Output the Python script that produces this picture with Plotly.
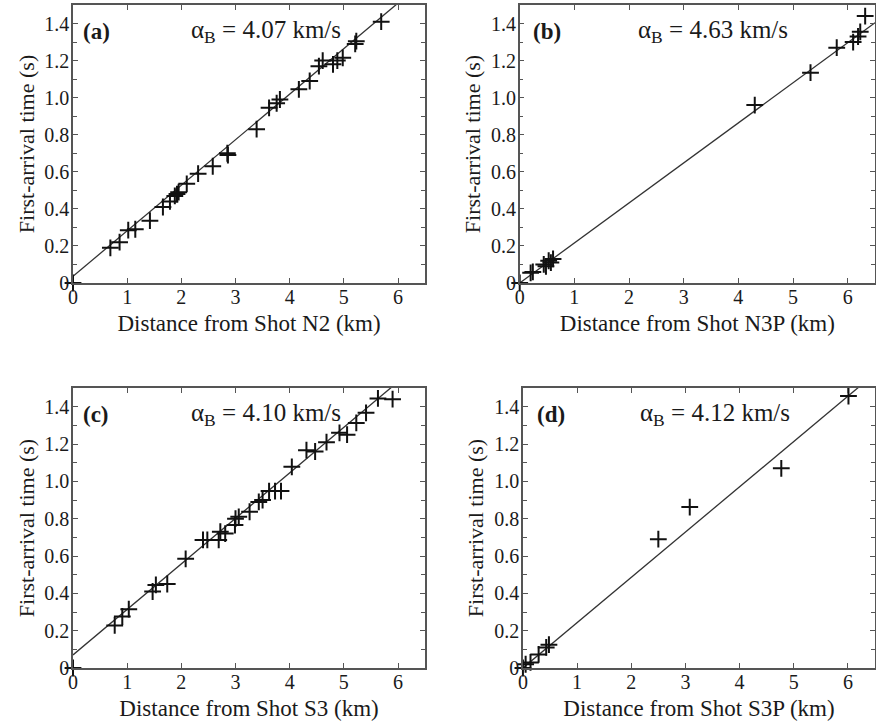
import plotly.graph_objects as go

# ---- data ----
panel_labels = ["(a)", "(b)", "(c)", "(d)"]
shot_names = ["N2", "N3P", "S3", "S3P"]
velocities = [4.07, 4.63, 4.10, 4.12]          # alpha_B, km/s
intercepts = [0.036, 0.0, 0.07, 0.0]          # fitted line intercept, s

a_x = [0, 0.69, 0.86, 1.02, 1.15, 1.42, 1.66, 1.79, 1.88, 1.92, 1.95, 2.10, 2.31, 2.58, 2.85, 2.86,
       3.39, 3.62, 3.76, 3.82, 4.17, 4.37, 4.54, 4.61, 4.80, 4.88, 4.98, 5.21, 5.23, 5.69]
a_y = [0, 0.19, 0.22, 0.285, 0.29, 0.336, 0.41, 0.44, 0.47, 0.48, 0.49, 0.535, 0.59, 0.63, 0.70, 0.69,
       0.83, 0.945, 0.97, 0.99, 1.045, 1.09, 1.17, 1.20, 1.18, 1.20, 1.215, 1.29, 1.305, 1.41]

b_x = [0, 0.20, 0.24, 0.44, 0.48, 0.53, 0.57, 0.61, 4.30, 5.32, 5.80, 6.10, 6.19, 6.23, 6.32]
b_y = [0, 0.055, 0.06, 0.10, 0.09, 0.12, 0.11, 0.13, 0.96, 1.135, 1.27, 1.30, 1.33, 1.355, 1.44]

c_x = [0, 0.77, 0.91, 1.03, 1.47, 1.53, 1.74, 2.08, 2.40, 2.48, 2.69, 2.72, 2.81, 2.99, 3.00, 3.06,
       3.26, 3.43, 3.50, 3.62, 3.73, 3.84, 4.04, 4.31, 4.47, 4.68, 4.92, 5.06, 5.23, 5.41, 5.63, 5.90]
c_y = [0, 0.228, 0.276, 0.315, 0.41, 0.445, 0.45, 0.585, 0.686, 0.686, 0.686, 0.73, 0.72, 0.766, 0.80, 0.81,
       0.837, 0.89, 0.90, 0.948, 0.948, 0.948, 1.078, 1.167, 1.16, 1.21, 1.26, 1.25, 1.313, 1.367, 1.444, 1.44]

d_x = [0, 0.05, 0.14, 0.29, 0.43, 0.48, 2.50, 3.08, 4.77, 6.01]
d_y = [0, 0.02, 0.03, 0.073, 0.11, 0.125, 0.69, 0.862, 1.07, 1.457]

x_ticks = [0, 1, 2, 3, 4, 5, 6]
y_ticks = [0, 0.2, 0.4, 0.6, 0.8, 1.0, 1.2, 1.4]
y_tick_text = ["0", "0.2", "0.4", "0.6", "0.8", "1.0", "1.2", "1.4"]
x_range = [0, 6.5]
y_range = [0, 1.5]

# ---- figure ----
FONT = "'Liberation Serif', 'DejaVu Serif', serif"
TXT = "#1a1a1a"
AX = "#555555"

xs = [a_x, b_x, c_x, d_x]
ys = [a_y, b_y, c_y, d_y]

x_domains = [[0, 0.439], [0.557, 1.0], [0, 0.439], [0.561, 1.0]]
y_domains = [[0.5807, 1.0], [0.5807, 1.0], [0, 0.4223], [0, 0.4223]]

fig = go.Figure()

for i in range(4):
    sfx = "" if i == 0 else str(i + 1)
    xa, ya = "x" + sfx, "y" + sfx
    v, b0 = velocities[i], intercepts[i]
    lx = [x_range[0], x_range[1]]
    ly = [b0 + xx / v for xx in lx]
    fig.add_trace(go.Scatter(x=lx, y=ly, mode="lines", xaxis=xa, yaxis=ya,
                             line=dict(color="#333333", width=1.3), showlegend=False,
                             hoverinfo="skip"))
    fig.add_trace(go.Scatter(x=xs[i], y=ys[i], mode="markers", xaxis=xa, yaxis=ya,
                             marker=dict(symbol="cross-thin", size=12,
                                         line=dict(color="#111111", width=2)),
                             cliponaxis=False, showlegend=False))

    common = dict(showline=True, linecolor=AX, linewidth=1.5, mirror="ticks",
                  ticks="inside", ticklen=5, tickwidth=1, tickcolor=AX,
                  showgrid=False, zeroline=False, automargin=False,
                  tickfont=dict(family=FONT, size=20, color=TXT))
    fig.layout["xaxis" + sfx] = dict(
        domain=x_domains[i], range=x_range, anchor=ya,
        tickmode="array", tickvals=x_ticks, ticklabelstandoff=-5,
        title=dict(text=f"Distance from Shot {shot_names[i]} (km)",
                   font=dict(family=FONT, size=23, color=TXT), standoff=8),
        **common)
    fig.layout["yaxis" + sfx] = dict(
        domain=y_domains[i], range=y_range, anchor=xa,
        tickmode="array", tickvals=y_ticks, ticktext=y_tick_text,
        ticklabelstandoff=-2,
        minor=dict(tickmode="linear", tick0=0, dtick=0.1, ticks="inside",
                   ticklen=4, tickcolor=AX, tickwidth=1),
        title=dict(text="First-arrival time (s)",
                   font=dict(family=FONT, size=22, color=TXT), standoff=4),
        **common)

    fig.add_annotation(xref=xa + " domain", yref=ya + " domain",
                       x=0.024 if i % 2 == 0 else 0.033, y=0.905,
                       xanchor="left", yanchor="middle", showarrow=False,
                       text=f"<b>{panel_labels[i]}</b>",
                       font=dict(family=FONT, size=23, color=TXT))
    fig.add_annotation(xref=xa + " domain", yref=ya + " domain",
                       x=0.330 if i % 2 == 0 else 0.326, y=0.905,
                       xanchor="left", yanchor="middle", showarrow=False,
                       text=f"α<sub>B</sub> = {velocities[i]:.2f} km/s",
                       font=dict(family=FONT, size=25, color=TXT))

fig.update_layout(width=876, height=727,
                  margin=dict(l=73, r=1, t=5, b=59),
                  paper_bgcolor="white", plot_bgcolor="white")

fig.write_html("out.html", config={"displayModeBar": False},
               post_script="document.body.style.margin='0';")
